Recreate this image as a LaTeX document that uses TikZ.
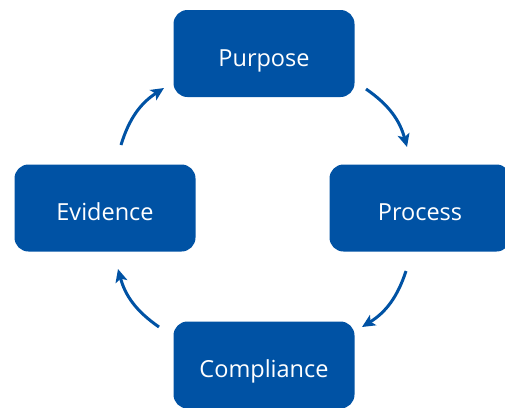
\documentclass[tikz,border=0pt]{standalone}
\usepackage{fontspec}
\setmainfont{Open Sans}
\usetikzlibrary{arrows.meta,positioning}

\definecolor{cycleblue}{RGB}{0,82,164}

\tikzset{
  stage/.style = {fill=cycleblue, rounded corners=14pt, minimum width=181pt,
                  minimum height=87pt, text=white, text height=25pt, text depth=0pt,
                  font=\fontsize{23.5}{28}\selectfont},
  flow/.style  = {draw=cycleblue, line width=3pt,
                  -{Stealth[length=13pt,width=12pt,inset=3pt]}},
}

\begin{document}
\begin{tikzpicture}[x=1pt, y=-1pt]
              \useasboundingbox (0,0) rectangle (505,407);

                \node[stage] (purpose) at (264,53.5) {Purpose};
                \node[stage] (process) at (420,208) {Process};
                \node[stage] (evidence) at (105,208) {Evidence};
                \node[stage] (compliance) at (264,365) {Compliance};

                % arrow ends, a little off the boxes
                \coordinate (a1) at (366,89);  \coordinate (b1) at (407,147);
                \coordinate (a2) at (406,271); \coordinate (b2) at (362,327);
                \coordinate (a3) at (159,327); \coordinate (b3) at (118,269);
                \coordinate (a4) at (121,145); \coordinate (b4) at (164,88);

                \draw[flow] (a1) to[bend left=20] (b1);
                \draw[flow] (a2) to[bend left=20] (b2);
                \draw[flow] (a3) to[bend left=20] (b3);
                \draw[flow] (a4) to[bend left=20] (b4);
            \end{tikzpicture}
\end{document}
